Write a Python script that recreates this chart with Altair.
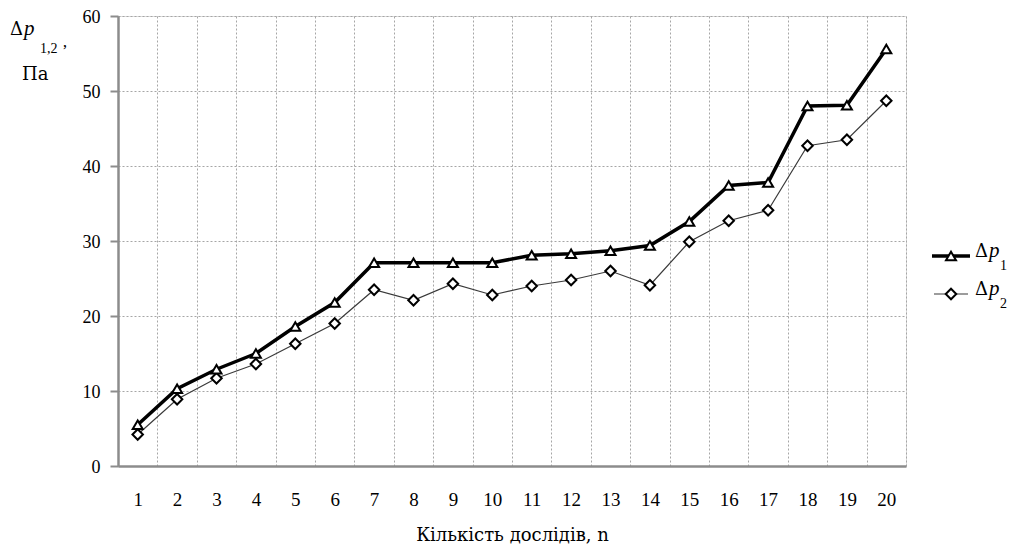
import altair as alt
import pandas as pd

# ---- data ----
n = list(range(1, 21))
dp1 = [5.5, 10.3, 12.9, 15.0, 18.6, 21.8, 27.1, 27.1, 27.1, 27.1,
       28.1, 28.3, 28.7, 29.4, 32.6, 37.4, 37.8, 48.0, 48.1, 55.6]
dp2 = [4.2, 8.9, 11.7, 13.6, 16.3, 19.0, 23.5, 22.1, 24.3, 22.8,
       24.0, 24.8, 26.0, 24.1, 29.9, 32.7, 34.1, 42.7, 43.5, 48.7]
y_ticks = [0, 10, 20, 30, 40, 50, 60]
x_bounds = [0.5 + i for i in range(21)]  # category boundaries (grid)
x_title = "Кількість дослідів, n"

df = pd.DataFrame({"n": n, "dp1": dp1, "dp2": dp2})

FONT = "Liberation Serif"
FONT2 = "DejaVu Serif"
AX = "#8c8c8c"
GRID = "#a6a6a6"
W, H = 788, 450
BAND = W / 20.0

xscale = alt.Scale(domain=[0.5, 20.5], nice=False, zero=False)
yscale = alt.Scale(domain=[0, 60], nice=False, zero=True)

xaxis = alt.Axis(
    values=x_bounds,
    labelExpr="datum.value < 20 ? format(datum.value + 0.5, 'd') : ''",
    labelOffset=BAND / 2,
    labelFlush=False, labelOverlap=False, labelBound=False,
    ticks=False, grid=True, gridColor=GRID, gridDash=[2, 2], gridWidth=1,
    domainColor=AX, domainWidth=2.5,
    labelFont=FONT, labelFontSize=19, labelColor="black", labelPadding=24,
    title=x_title, titleFont=FONT2, titleFontSize=18, titleFontWeight="normal",
    titleColor="black", titlePadding=17,
)
yaxis = alt.Axis(
    values=y_ticks, format="d",
    ticks=True, tickSize=8, tickColor=AX, tickWidth=2,
    grid=True, gridColor=GRID, gridDash=[2, 2], gridWidth=1,
    domainColor=AX, domainWidth=2.5,
    labelFont=FONT, labelFontSize=18, labelColor="black", labelPadding=10,
    labelOffset=1,
    title=None,
)

base = alt.Chart(df)
X = alt.X("n:Q", scale=xscale, axis=xaxis)

line2 = base.mark_line(color="#3a3a3a", strokeWidth=1.2).encode(
    x=X, y=alt.Y("dp2:Q", scale=yscale, axis=yaxis))
pts2 = base.mark_point(shape="diamond", filled=True, fill="white", stroke="black",
                       strokeWidth=2, size=110, opacity=1).encode(
    x=X, y=alt.Y("dp2:Q", scale=yscale, axis=yaxis))
line1 = base.mark_line(color="black", strokeWidth=3.5).encode(
    x=X, y=alt.Y("dp1:Q", scale=yscale, axis=yaxis))
pts1 = base.mark_point(shape="triangle-up", filled=True, fill="white", stroke="black",
                       strokeWidth=2, size=100, opacity=1).encode(
    x=X, y=alt.Y("dp1:Q", scale=yscale, axis=yaxis))

dummy = alt.Data(values=[{"k": 1}])


def txt(s, x, y, size=20, style="normal", baseline="alphabetic", font=FONT):
    return alt.Chart(dummy).mark_text(
        text=s, font=font, fontSize=size, fontStyle=style, align="left",
        baseline=baseline, color="black").encode(x=alt.value(x), y=alt.value(y))


# y-axis title: Δp_{1,2}’, Па
ytitle = [
    txt("Δ", -108, 19, 18, font=FONT2),
    txt("p", -94, 19, 21, "italic"),
    txt("1,2", -78, 37, 14),
    txt("’", -56, 27, 17, baseline="top"),
    txt("Па", -96, 64, 18, font=FONT2),
]

# custom legend
leg_rule1 = alt.Chart(dummy).mark_rule(color="black", strokeWidth=3.5).encode(
    x=alt.value(814), x2=alt.value(852), y=alt.value(240))
leg_pt1 = alt.Chart(dummy).mark_point(shape="triangle-up", filled=True, fill="white",
                                      stroke="black", strokeWidth=2, size=100,
                                      opacity=1).encode(x=alt.value(833), y=alt.value(240))
leg_rule2 = alt.Chart(dummy).mark_rule(color="#3a3a3a", strokeWidth=1.2).encode(
    x=alt.value(816), x2=alt.value(850), y=alt.value(278))
leg_pt2 = alt.Chart(dummy).mark_point(shape="diamond", filled=True, fill="white",
                                      stroke="black", strokeWidth=2, size=110,
                                      opacity=1).encode(x=alt.value(833), y=alt.value(278))
legend = [
    leg_rule1, leg_pt1, leg_rule2, leg_pt2,
    txt("Δ", 857, 241, 18, font=FONT2), txt("p", 871, 241, 21, "italic"), txt("1", 882, 254, 14),
    txt("Δ", 857, 279, 18, font=FONT2), txt("p", 871, 279, 21, "italic"), txt("2", 882, 292, 14),
]

chart = alt.layer(line2, pts2, line1, pts1, *ytitle, *legend).properties(
    width=W, height=H,
    padding={"left": 110, "top": 8, "right": 103, "bottom": 87},
    autosize=alt.AutoSizeParams(type="none"),
).configure_view(stroke=None).configure(background="white")

chart.save("out.html", embed_options={"renderer": "svg", "actions": False})
